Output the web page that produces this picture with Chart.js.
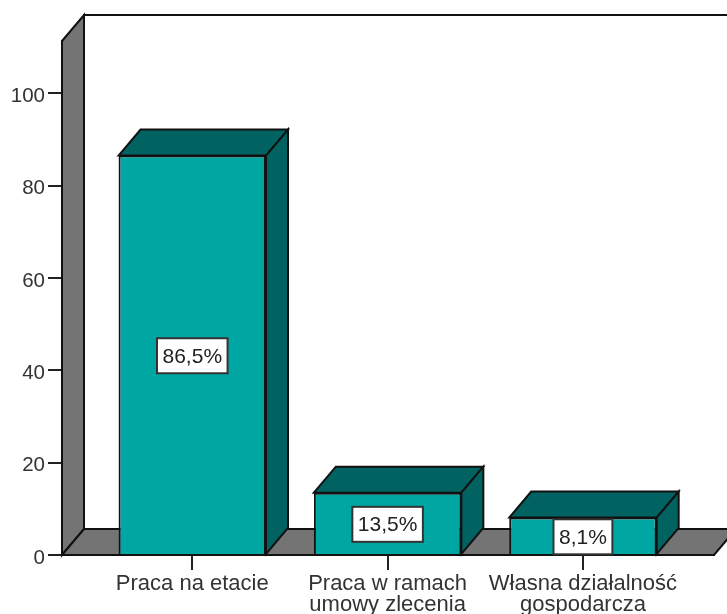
<!DOCTYPE html>
<html>
<head>
<meta charset="utf-8">
<script src="https://cdn.jsdelivr.net/npm/chart.js@4"></script>
<style>
  html, body { margin: 0; padding: 0; background: #fff; overflow: hidden; }
  canvas { display: block; }
</style>
</head>
<body>
<canvas id="chartBar" width="727" height="614"></canvas>
<script>
const categories = [['Praca na etacie'], ['Praca w ramach', 'umowy zlecenia'], ['Własna działalność', 'gospodarcza']];
const positions = [0, 1, 2];
const values = [86.5, 13.5, 8.1];
const valueLabels = ['86,5%', '13,5%', '8,1%'];

const FONT = '"Liberation Sans", Arial, sans-serif';
const DEPTH_X = 22;
const DEPTH_Y = 26;

function poly(ctx, pts, fill) {
    ctx.beginPath();
    ctx.moveTo(pts[0][0], pts[0][1]);
    for (let i = 1; i < pts.length; i++) ctx.lineTo(pts[i][0], pts[i][1]);
    ctx.closePath();
    ctx.fillStyle = fill;
    ctx.fill();
    ctx.lineWidth = 2;
    ctx.strokeStyle = '#111';
    ctx.lineJoin = 'miter';
    ctx.stroke();
}

// back wall, left wall and floor of the 3d box
const wallsPlugin = {
    id: 'walls',
    beforeDraw(chart) {
        const { ctx, chartArea: a } = chart;
        ctx.save();
        poly(ctx, [[a.left + DEPTH_X, a.top - DEPTH_Y], [a.right + DEPTH_X, a.top - DEPTH_Y], [a.right + DEPTH_X, a.bottom - DEPTH_Y], [a.left + DEPTH_X, a.bottom - DEPTH_Y]], '#fff');
        poly(ctx, [[a.left, a.top], [a.left + DEPTH_X, a.top - DEPTH_Y], [a.left + DEPTH_X, a.bottom - DEPTH_Y], [a.left, a.bottom]], '#747474');
        poly(ctx, [[a.left, a.bottom], [a.left + DEPTH_X, a.bottom - DEPTH_Y], [a.right + DEPTH_X, a.bottom - DEPTH_Y], [a.right, a.bottom]], '#747474');
        ctx.restore();
    },
    // top and side of each bar, the front comes from the library
    beforeDatasetsDraw(chart) {
        const ctx = chart.ctx;
        ctx.save();
        chart.getDatasetMeta(0).data.forEach(bar => {
            const l = bar.x - bar.width / 2;
            const r = bar.x + bar.width / 2;
            poly(ctx, [[l, bar.y], [l + DEPTH_X, bar.y - DEPTH_Y], [r + DEPTH_X, bar.y - DEPTH_Y], [r, bar.y]], '#006361');
            poly(ctx, [[r, bar.y], [r + DEPTH_X, bar.y - DEPTH_Y], [r + DEPTH_X, bar.base - DEPTH_Y], [r, bar.base]], '#006361');
        });
        ctx.restore();
    },
    afterDatasetsDraw(chart) {
        const ctx = chart.ctx;
        ctx.save();
        ctx.font = '21px ' + FONT;
        ctx.textAlign = 'center';
        ctx.textBaseline = 'middle';
        chart.getDatasetMeta(0).data.forEach((bar, i) => {
            const cy = (bar.y + bar.base) / 2 + 1;
            const w = ctx.measureText(valueLabels[i]).width + 11;
            const h = 35;
            ctx.fillStyle = '#fff';
            ctx.strokeStyle = '#333';
            ctx.lineWidth = 2;
            ctx.fillRect(bar.x - w / 2, cy - h / 2, w, h);
            ctx.strokeRect(bar.x - w / 2, cy - h / 2, w, h);
            ctx.fillStyle = '#222';
            ctx.fillText(valueLabels[i], bar.x, cy + 1);
        });
        ctx.restore();
    }
};

new Chart(document.getElementById('chartBar'), {
    type: 'bar',
    data: {
        datasets: [{
            data: positions.map((p, i) => ({ x: p, y: values[i] })),
            backgroundColor: '#00A6A1',
            borderColor: '#111',
            borderWidth: 2,
            barPercentage: 0.755,
            categoryPercentage: 1
        }]
    },
    options: {
        responsive: false,
        animation: false,
        layout: { padding: { top: 41, right: 13, left: 0, bottom: 0 } },
        plugins: { legend: { display: false }, tooltip: { enabled: false } },
        scales: {
            x: {
                type: 'linear',
                offset: false,
                min: -0.667,
                max: 2.671,
                afterBuildTicks(scale) { scale.ticks = positions.map(p => ({ value: p })); },
                afterFit(scale) { scale.height = 59; },
                border: { color: '#111', width: 2 },
                grid: { offset: false, drawOnChartArea: false, color: '#222', lineWidth: 2, tickLength: 15 },
                ticks: {
                    autoSkip: false,
                    maxRotation: 0,
                    padding: 3,
                    color: '#333',
                    font: { family: FONT, size: 22, lineHeight: 0.96 },
                    callback: value => categories[value]
                }
            },
            y: {
                min: 0,
                max: 111.3,
                afterFit(scale) { scale.width = 62; },
                border: { color: '#111', width: 2 },
                grid: { drawOnChartArea: false, color: '#222', lineWidth: 2, tickLength: 14 },
                ticks: {
                    stepSize: 20,
                    includeBounds: false,
                    padding: 3,
                    labelOffset: 3,
                    color: '#333',
                    font: { family: FONT, size: 20.5 }
                }
            }
        }
    },
    plugins: [wallsPlugin]
});
</script>
</body>
</html>
